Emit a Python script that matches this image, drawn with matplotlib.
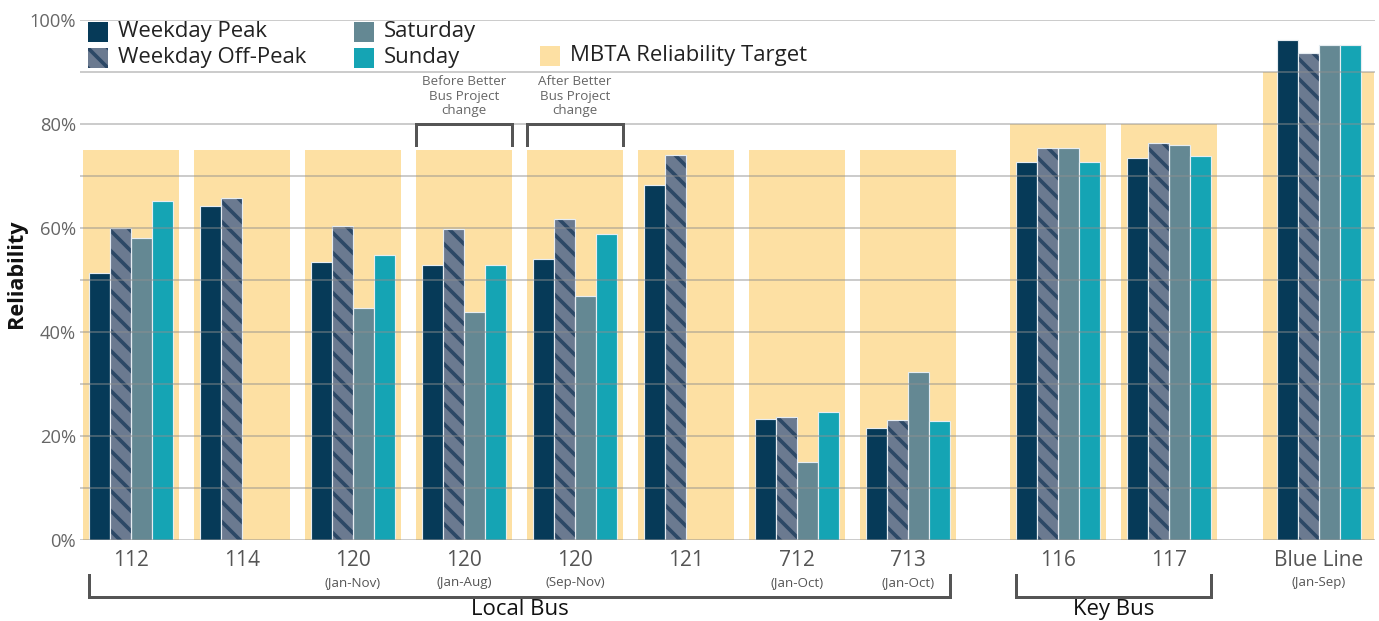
import numpy as np
import matplotlib
matplotlib.use("Agg")
import matplotlib.pyplot as plt
from matplotlib.patches import Rectangle

plt.rcParams['font.family'] = ['Open Sans', 'DejaVu Sans']
plt.rcParams['hatch.linewidth'] = 2.2

# ---------------- data ----------------
categories = ["112", "114", "120", "120", "120", "121", "712", "713", "116", "117", "Blue Line"]
sublabels = ["", "", "(Jan-Nov)", "(Jan-Aug)", "(Sep-Nov)", "", "(Jan-Oct)", "(Jan-Oct)", "", "", "(Jan-Sep)"]
weekday_peak = [51.3, 64.2, 53.5, 52.9, 54.0, 68.2, 23.2, 21.5, 72.6, 73.4, 96.1]
weekday_offpeak = [60.0, 65.8, 60.3, 59.9, 61.8, 74.0, 23.6, 23.0, 75.4, 76.3, 93.6]
saturday = [58.1, np.nan, 44.7, 43.8, 46.9, np.nan, 15.0, 32.4, 75.4, 76.0, 95.1]
sunday = [65.2, np.nan, 54.9, 52.9, 58.9, np.nan, 24.6, 22.9, 72.7, 73.8, 95.1]
target = [75, 75, 75, 75, 75, 75, 75, 75, 80, 80, 90]
groups = [("Local Bus", 0, 7), ("Key Bus", 8, 9)]
notes = [(3, "Before Better\nBus Project\nchange"), (4, "After Better\nBus Project\nchange")]

# ---------------- layout ----------------
positions = np.array([0, 1, 2, 3, 4, 5, 6, 7, 8.35, 9.35, 10.7])
target_width = [0.865] * 10 + [1.0]
bw = 0.189
HATCH = "\\\\"

C_PEAK = "#063a58"
C_OFF = "#6b7a90"
C_STRIPE = "#2c4866"
C_SAT = "#648893"
C_SUN = "#15a4b4"
C_TGT = "#fde0a3"
C_EDGE = "#e6edf2"

W, H, DPI = 1379, 621, 120
fig = plt.figure(figsize=(W / DPI, H / DPI), dpi=DPI)
ax = fig.add_axes([80 / W, 1 - 540 / H, (1375 - 80) / W, (540 - 20) / H])

def fx(px):
    return px / W

def fy(py):
    return 1 - py / H

# targets
ax.bar(positions, target, width=target_width, color=C_TGT, zorder=0.5, linewidth=0)

# bars
ax.bar(positions - 1.5 * bw, weekday_peak, width=bw, color=C_PEAK, edgecolor=C_EDGE, linewidth=0.7, zorder=1)
ax.bar(positions - 0.5 * bw, weekday_offpeak, width=bw, color=C_OFF, linewidth=0, zorder=1)
ax.bar(positions - 0.5 * bw, weekday_offpeak, width=bw, facecolor="none", edgecolor=C_STRIPE,
       hatch=HATCH, linewidth=0, zorder=1.1)
ax.bar(positions - 0.5 * bw, weekday_offpeak, width=bw, facecolor="none", edgecolor=C_EDGE,
       linewidth=0.7, zorder=1.2)
ax.bar(positions + 0.5 * bw, saturday, width=bw, color=C_SAT, edgecolor=C_EDGE, linewidth=0.7, zorder=1)
ax.bar(positions + 1.5 * bw, sunday, width=bw, color=C_SUN, edgecolor=C_EDGE, linewidth=0.7, zorder=1)

# axes styling
ax.set_xlim(-0.459, 11.207)
ax.set_ylim(0, 100)
ax.set_yticks(np.arange(0, 101, 20))
ax.set_yticks(np.arange(0, 101, 10), minor=True)
ax.set_yticklabels([f"{v}%" for v in range(0, 101, 20)])
ax.tick_params(axis='y', which='both', length=0, pad=2.5, labelsize=11, labelcolor="#666666")
ax.set_xticks([])
for s in ax.spines.values():
    s.set_visible(False)
ax.set_axisbelow(False)
ax.yaxis.grid(True, which='both', color="#8f8f8f", alpha=0.6, linewidth=0.9)

# x labels
for p, lab, sub in zip(positions, categories, sublabels):
    ax.text(p, -3.85, lab, ha='center', va='center', fontsize=12.5, color="#555555", clip_on=False)
    if sub:
        ax.text(p, -8.2, sub, ha='center', va='center', fontsize=8, color="#555555", clip_on=False)

# group brackets
for name, i0, i1 in groups:
    x0 = positions[i0] - 2 * bw
    x1 = positions[i1] + 2 * bw
    ax.plot([x0, x0, x1, x1], [-6.7, -10.96, -10.96, -6.7], color="#555555", lw=1.8,
            clip_on=False, solid_joinstyle='miter')
    ax.text((x0 + x1) / 2, -13.3, name, ha='center', va='center', fontsize=13.3, color="#111111",
            clip_on=False)

# note brackets
for i, txt in notes:
    x0 = positions[i] - target_width[i] / 2
    x1 = positions[i] + target_width[i] / 2
    ax.plot([x0, x0, x1, x1], [76, 80, 80, 76], color="#555555", lw=1.8, zorder=4,
            solid_joinstyle='miter')
    ax.text(positions[i], 85.3, txt, ha='center', va='center', fontsize=8, color="#666666",
            linespacing=1.15)

# y label
fig.text(fx(17), fy(274), "Reliability", rotation=90, ha='center', va='center',
         fontsize=13, fontweight='bold', color="#111111")

# legend (manual)
legend_items = [
    (88, 31.7, C_PEAK, None, "Weekday Peak"),
    (88, 57.7, C_OFF, C_STRIPE, "Weekday Off-Peak"),
    (354, 31.7, C_SAT, None, "Saturday"),
    (354, 57.7, C_SUN, None, "Sunday"),
    (540, 56.0, C_TGT, None, "MBTA Reliability Target"),
]
sq = 20
for x, yc, col, stripe, lab in legend_items:
    fig.add_artist(Rectangle((fx(x), fy(yc + sq / 2)), sq / W, sq / H, transform=fig.transFigure,
                             facecolor=col, linewidth=0))
    if stripe:
        fig.add_artist(Rectangle((fx(x), fy(yc + sq / 2)), sq / W, sq / H, transform=fig.transFigure,
                                 facecolor="none", edgecolor=stripe, hatch=HATCH, linewidth=0))
    fig.text(fx(x + 30), fy(yc), lab, ha='left', va='center', fontsize=13.3, color="#222222")

fig.savefig("out.png", dpi=DPI)
